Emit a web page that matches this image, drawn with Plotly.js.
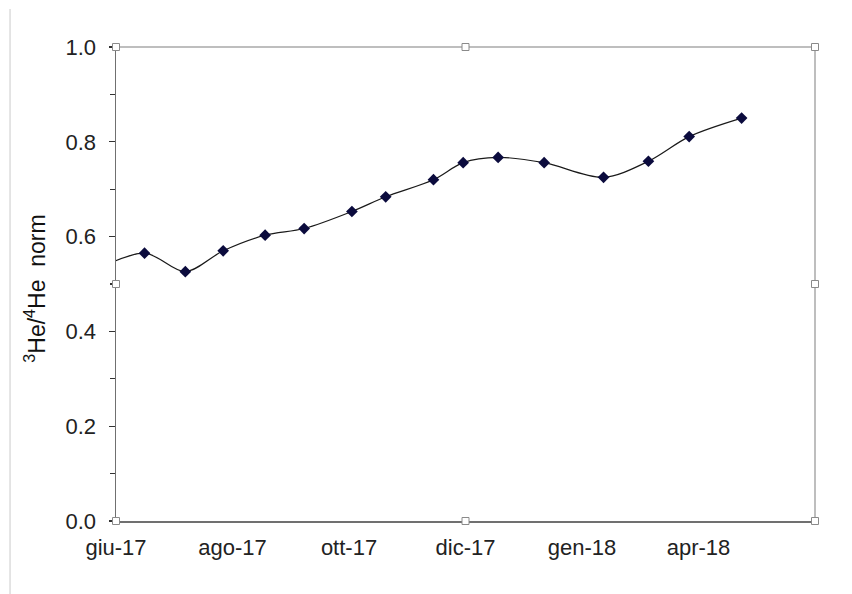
<!DOCTYPE html>
<html>
<head>
<meta charset="utf-8">
<script src="https://cdn.plot.ly/plotly-3.0.1.min.js"></script>
<style>html,body{margin:0;padding:0;background:#fff;}#chart{width:852px;height:594px;}</style>
</head>
<body>
<div id="chart"></div>
<script>
// month index from giu-17 (0) ; values of normalized 3He/4He
const monthPos = [-0.5, 0.49, 1.19, 1.84, 2.56, 3.23, 4.05, 4.63, 5.45, 5.96, 6.56, 7.35, 8.37, 9.14, 9.84, 10.74];
const heRatio  = [0.52, 0.565, 0.526, 0.570, 0.603, 0.617, 0.653, 0.684, 0.720, 0.756, 0.767, 0.756, 0.725, 0.759, 0.811, 0.850];
const tickPositions = [0, 2, 4, 6, 8, 10];
const tickLabels = ['giu-17', 'ago-17', 'ott-17', 'dic-17', 'gen-18', 'apr-18'];
const tickMarkPositions = [1, 2, 3, 4, 5, 6, 7, 8];
const yTitle = '<sup>3</sup>He/<sup>4</sup>He  norm';

const FONT = 'Liberation Sans, Arial, sans-serif';
const AXC = '#707070';

const trace = {
  x: monthPos, y: heRatio, type: 'scatter', mode: 'lines+markers',
  line: {shape: 'spline', smoothing: 0.9, color: '#1a1a1a', width: 1.2},
  marker: {symbol: 'diamond', size: 9, color: '#0b0b3d'},
  cliponaxis: true, hoverinfo: 'skip'
};

function handle(px, py) {
  return {type: 'rect', xref: 'paper', yref: 'paper', xsizemode: 'pixel', ysizemode: 'pixel',
    xanchor: px, yanchor: py, x0: -3.5, x1: 3.5, y0: -3.5, y1: 3.5,
    line: {color: '#8a8a8a', width: 1}, fillcolor: '#ffffff', layer: 'above'};
}

const shapes = [
  {type: 'line', xref: 'paper', yref: 'paper', x0: 0, x1: 1, y0: 1, y1: 1, line: {color: '#a8a8a8', width: 1.5}},
  {type: 'line', xref: 'paper', yref: 'paper', x0: 1, x1: 1, y0: 0, y1: 1, line: {color: '#a8a8a8', width: 1.5}},
  {type: 'line', xref: 'paper', yref: 'paper', x0: -0.1516, x1: -0.1516, y0: -0.154, y1: 1.08, line: {color: '#dcdcdc', width: 1.5}},
  handle(0, 0), handle(0.5, 0), handle(1, 0),
  handle(0, 0.5), handle(1, 0.5),
  handle(0, 1), handle(0.5, 1), handle(1, 1)
];

const layout = {
  width: 852, height: 594,
  margin: {l: 116, r: 37, t: 47, b: 73},
  paper_bgcolor: '#ffffff', plot_bgcolor: '#ffffff',
  showlegend: false,
  font: {family: FONT, size: 22, color: '#222222'},
  xaxis: {
    range: [0, 12], tickmode: 'array', tickvals: tickPositions, ticktext: tickLabels,
    ticks: '', showgrid: false, zeroline: false, showline: true, linecolor: AXC, linewidth: 1.5,
    ticklabelstandoff: 6,
    tickfont: {family: FONT, size: 22, color: '#222222'}, fixedrange: true
  },
  xaxis2: {
    overlaying: 'x', anchor: 'y', side: 'bottom', range: [0, 12], tickmode: 'array', tickvals: tickMarkPositions,
    ticks: 'outside', ticklen: 5, tickwidth: 1.3, tickcolor: '#333333', showticklabels: false,
    showgrid: false, zeroline: false, showline: false
  },
  xaxis3: {
    overlaying: 'x', anchor: 'y', side: 'bottom', range: [0, 12], tickmode: 'array', tickvals: tickMarkPositions,
    ticks: 'inside', ticklen: 5, tickwidth: 1.3, tickcolor: '#333333', showticklabels: false,
    showgrid: false, zeroline: false, showline: false
  },
  yaxis: {
    range: [0, 1], tickmode: 'linear', tick0: 0, dtick: 0.2, tickformat: '.1f',
    ticks: 'outside', ticklen: 6, tickwidth: 1.3, tickcolor: '#333333',
    minor: {dtick: 0.1, ticks: 'outside', ticklen: 5, tickwidth: 1.3, tickcolor: '#333333', showgrid: false},
    showgrid: false, zeroline: false, showline: true, linecolor: AXC, linewidth: 1.5,
    ticklabelstandoff: 8,
    tickfont: {family: FONT, size: 22, color: '#222222'}, fixedrange: true
  },
  shapes: shapes,
  annotations: [{
    text: yTitle, xref: 'paper', yref: 'paper', x: -0.116, y: 0.49, xanchor: 'center', yanchor: 'middle',
    textangle: -90, showarrow: false, font: {family: FONT, size: 23, color: '#111111'}
  }]
};

Plotly.newPlot('chart', [trace], layout, {staticPlot: true, displayModeBar: false});
</script>
</body>
</html>
